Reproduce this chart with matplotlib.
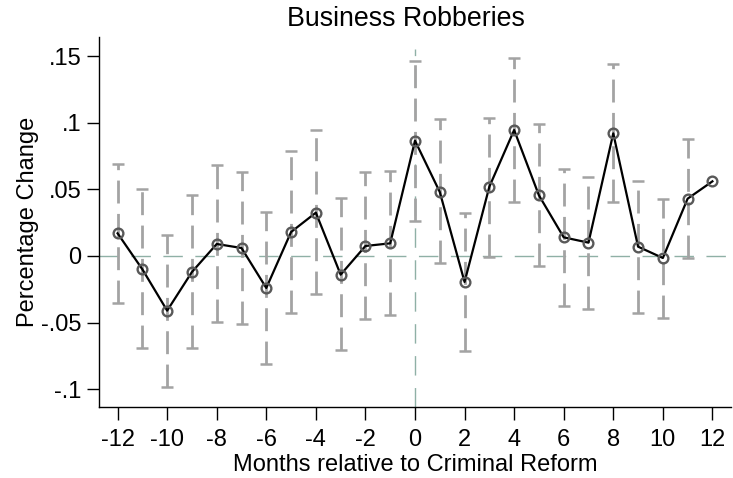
import matplotlib
matplotlib.use("Agg")
import matplotlib.pyplot as plt
import numpy as np
from matplotlib.ticker import FixedLocator

plt.rcParams['font.family'] = ['Liberation Sans', 'DejaVu Sans']
plt.rcParams['lines.scale_dashes'] = False

# Event-study estimates by month relative to the reform
months = [-12, -11, -10, -9, -8, -7, -6, -5, -4, -3, -2, -1,
          0, 1, 2, 3, 4, 5, 6, 7, 8, 9, 10, 11, 12]
estimate = [0.017, -0.010, -0.041, -0.012, 0.009, 0.006, -0.024, 0.018,
            0.0325, -0.014, 0.0075, 0.0095, 0.0865, 0.048, -0.0195, 0.052,
            0.0945, 0.0455, 0.014, 0.010, 0.092, 0.007, -0.0015, 0.043, 0.056]
ci_low = [-0.0355, -0.069, -0.098, -0.069, -0.0498, -0.051, -0.0808, -0.0425,
          -0.0288, -0.0708, -0.0475, -0.0445, 0.0263, -0.0055, -0.0713, -0.0005,
          0.0403, -0.0075, -0.0378, -0.0398, 0.0403, -0.043, -0.0468, -0.0015, np.nan]
ci_high = [0.069, 0.050, 0.0158, 0.0458, 0.068, 0.063, 0.0328, 0.079,
           0.0945, 0.0433, 0.0628, 0.0635, 0.1465, 0.1028, 0.0325, 0.1038,
           0.1488, 0.0988, 0.0653, 0.0595, 0.1438, 0.0563, 0.0428, 0.0878, np.nan]

x_ticks = [-12, -10, -8, -6, -4, -2, 0, 2, 4, 6, 8, 10, 12]
y_ticks = [-0.10, -0.05, 0.0, 0.05, 0.10, 0.15]
y_tick_labels = ['-.1', '-.05', '0', '.05', '.1', '.15']

W, H = 733, 478
fig = plt.figure(figsize=(W / 100, H / 100), dpi=100)
ax_left, ax_right, ax_top, ax_bottom = 99, 731, 37, 407
ax = fig.add_axes([ax_left / W, 1 - ax_bottom / H,
                   (ax_right - ax_left) / W, (ax_bottom - ax_top) / H])

ax.set_xlim(-12.75, 12.75)
ax.set_ylim(-0.1133, 0.1643)

ref_color = '#8fb0a6'
ci_color = '#a3a3a3'

# reference lines at zero
ax.axhline(0, color=ref_color, lw=1.0, dashes=(14, 9), zorder=1)
ax.axvline(0, ymax=(0.155 + 0.1133) / (0.1643 + 0.1133),
           color=ref_color, lw=1.0, dashes=(14, 9), zorder=1)

# confidence intervals: dashed stems with solid caps
m = np.array(months, dtype=float)
lo = np.array(ci_low)
hi = np.array(ci_high)
ok = ~np.isnan(lo)
ax.vlines(m[ok], lo[ok], hi[ok], colors=ci_color, lw=2.0,
          linestyles=[(0, (16.5, 7.5))], zorder=2)
ax.plot(m[ok], lo[ok], ls='none', marker='_', ms=9, mew=1.8,
        color=ci_color, zorder=2)
ax.plot(m[ok], hi[ok], ls='none', marker='_', ms=9, mew=1.8,
        color=ci_color, zorder=2)

# point estimates
ax.plot(months, estimate, color='black', lw=1.6, zorder=3)
ax.plot(months, estimate, ls='none', marker='o', ms=7, mfc='none',
        mec='#595959', mew=1.7, zorder=4)

for s in ['top', 'right']:
    ax.spines[s].set_visible(False)
for s in ['left', 'bottom']:
    ax.spines[s].set_linewidth(1.0)

ax.xaxis.set_major_locator(FixedLocator(x_ticks))
ax.set_xticklabels([str(v) for v in x_ticks])
ax.yaxis.set_major_locator(FixedLocator(y_ticks))
ax.set_yticklabels(y_tick_labels)
ax.tick_params(axis='both', direction='out', length=9, width=1.0,
               labelsize=17, colors='black')
ax.tick_params(axis='x', pad=6.5)
ax.tick_params(axis='y', pad=3.5)

fig.text(406 / W, 1 - 19 / H, 'Business Robberies', ha='center', va='center',
         fontsize=19.3)
fig.text(415 / W, 1 - 465 / H, 'Months relative to Criminal Reform',
         ha='center', va='center', fontsize=17)
fig.text(28 / W, 1 - 222 / H, 'Percentage Change', ha='center', va='center',
         rotation=90, fontsize=17)

fig.savefig('out.png', dpi=100)
